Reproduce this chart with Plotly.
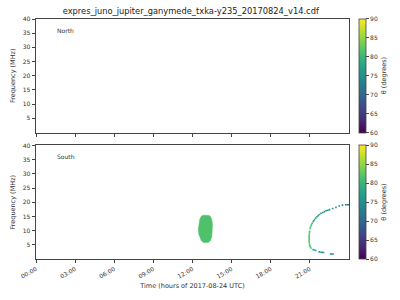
import plotly.graph_objects as go
from plotly.colors import sample_colorscale

NAN = float("nan")

# ---------------- data ----------------
title_text = "expres_juno_jupiter_ganymede_txka-y235_20170824_v14.cdf"
tick_hours = [0, 3, 6, 9, 12, 15, 18, 21]
tick_labels = ["00:00", "03:00", "06:00", "09:00", "12:00", "15:00", "18:00", "21:00"]
freq_ticks = [5, 10, 15, 20, 25, 30, 35, 40]
cbar_ticks = [60, 65, 70, 75, 80, 85, 90]

# North hemisphere: no emission (missing values only)
north_time = [NAN]
north_freq = [NAN]
north_theta = [NAN]

# South hemisphere: compact source (outline) near 13:00
blob_time = [12.45, 12.48, 12.55, 12.65, 12.8, 13.0, 13.3, 13.42, 13.5, 13.53, 13.53,
             13.48, 13.38, 13.25, 13.1, 12.85, 12.68, 12.56, 12.48, 12.45]
blob_freq = [10.5, 12.3, 13.8, 14.9, 15.4, 15.4, 15.3, 14.6, 13.5, 12.0, 9.5,
             7.8, 6.6, 5.9, 5.8, 5.8, 6.4, 7.5, 8.8, 10.5]
blob_theta = 81.5

# South hemisphere: arc near 21:00-24:00
arc_time = [22.78, 22.68, 22.58, 22.05, 21.95, 21.85, 21.72, 21.45, 21.35, 21.25,
            21.08, 21.02, 20.98, 20.97, 20.96, 20.95, 20.95, 20.95, 20.95, 20.95,
            20.96, 20.97, 20.98, 21.01, 21.06, 21.11, 21.17, 21.24, 21.30, 21.36,
            21.45, 21.54, 21.64, 21.74, 21.86, 21.99, 22.12, 22.25, 22.38, 22.5,
            22.75, 23.0, 23.25, 23.5, 23.75, 23.87, 23.97]
arc_freq = [1.75, 1.75, 1.75, 2.3, 2.35, 2.4, 2.5, 3.0, 3.15, 3.3,
            3.9, 4.3, 4.8, 5.3, 5.8, 6.3, 6.8, 7.3, 7.8, 8.3,
            8.8, 9.3, 9.8, 10.8, 11.4, 12.0, 12.5, 13.1, 13.5, 13.9,
            14.4, 14.9, 15.3, 15.7, 16.1, 16.4, 16.7, 17.0, 17.2, 17.4,
            17.8, 18.2, 18.7, 19.0, 19.1, 19.1, 19.1]
arc_theta = [76, 76, 76, 77, 77, 77, 77.5, 78, 78.5, 79,
             80, 81, 81.5, 82, 82, 82, 82, 82, 82, 82,
             82, 82, 82, 81.5, 81, 80, 79.5, 79, 78.5, 78,
             77.5, 77, 76.5, 76, 76, 75.5, 75.5, 75, 75, 75,
             74.5, 74.5, 74, 74, 73.5, 73.5, 73.5]

# ---------------- figure ----------------
CMIN, CMAX = 60, 90
FONT = "DejaVu Sans"
axcol = "#444444"

fig = go.Figure()

fig.add_trace(go.Scatter(
    x=north_time, y=north_freq, mode="markers", xaxis="x", yaxis="y",
    marker=dict(color=north_theta, coloraxis="coloraxis", showscale=True,
                cmin=CMIN, cmax=CMAX, size=2, symbol="square"),
    showlegend=False, hoverinfo="skip"))

blob_color = sample_colorscale("Viridis", [(blob_theta - CMIN) / (CMAX - CMIN)])[0]
fig.add_trace(go.Scatter(
    x=blob_time, y=blob_freq, mode="lines", fill="toself",
    fillcolor=blob_color, line=dict(color=blob_color, width=0.5),
    xaxis="x2", yaxis="y2", showlegend=False, hoverinfo="skip"))

fig.add_trace(go.Scatter(
    x=arc_time, y=arc_freq, mode="markers", xaxis="x2", yaxis="y2",
    marker=dict(color=arc_theta, coloraxis="coloraxis2", size=1.6, symbol="square",
                line=dict(width=0)),
    showlegend=False, hoverinfo="skip"))

def cbar(y0):
    return dict(
        thickness=7, thicknessmode="pixels", len=0.473, lenmode="fraction",
        x=1.031, xanchor="left", y=y0, yanchor="bottom", xpad=0, ypad=0,
        outlinewidth=0.8, outlinecolor=axcol,
        tickvals=cbar_ticks, ticks="outside", ticklen=3, tickwidth=0.8, tickcolor=axcol,
        tickfont=dict(family=FONT, size=6, color="#333"),
        title=dict(text="θ (degrees)", side="right", font=dict(family=FONT, size=6.5, color="#333")),
    )

common_x = dict(range=[0, 24], tickvals=tick_hours, ticks="outside", ticklen=3.5,
                tickwidth=0.8, tickcolor=axcol, showline=True, linecolor=axcol,
                linewidth=0.8, mirror=True, showgrid=False, zeroline=False,
                tickfont=dict(family=FONT, size=6, color="#333"))
common_y = dict(range=[0, 40], tickvals=freq_ticks, ticks="outside", ticklen=3.5,
                tickwidth=0.8, tickcolor=axcol, showline=True, linecolor=axcol,
                linewidth=0.8, mirror=True, showgrid=False, zeroline=False,
                tickfont=dict(family=FONT, size=6, color="#333"),
                title=dict(text="Frequency (MHz)", standoff=6,
                           font=dict(family=FONT, size=6.5, color="#333")))

fig.update_layout(
    width=400, height=300,
    margin=dict(l=32, r=50, t=19, b=38),
    paper_bgcolor="white", plot_bgcolor="white",
    title=dict(text=title_text, x=0.477, xanchor="center", y=0.963, yanchor="middle",
               font=dict(family=FONT, size=8.3, color="#222")),
    xaxis=dict(common_x, domain=[0, 1], anchor="y", showticklabels=False),
    yaxis=dict(common_y, domain=[0.527, 1], anchor="x"),
    xaxis2=dict(common_x, domain=[0, 1], anchor="y2", ticktext=tick_labels, tickangle=-30,
                title=dict(text="Time (hours of 2017-08-24 UTC)", standoff=4,
                           font=dict(family=FONT, size=6.5, color="#333"))),
    yaxis2=dict(common_y, domain=[0, 0.473], anchor="x2"),
    coloraxis=dict(colorscale="Viridis", cmin=CMIN, cmax=CMAX, showscale=True,
                   colorbar=cbar(0.527)),
    coloraxis2=dict(colorscale="Viridis", cmin=CMIN, cmax=CMAX, colorbar=cbar(0.0)),
    annotations=[
        dict(text="North", xref="x", yref="y", x=1.45, y=36, xanchor="left", yanchor="middle",
             showarrow=False, font=dict(family=FONT, size=6, color="#333")),
        dict(text="South", xref="x2", yref="y2", x=1.45, y=36, xanchor="left", yanchor="middle",
             showarrow=False, font=dict(family=FONT, size=6, color="#333")),
    ],
)

fig.write_html("out.html")
